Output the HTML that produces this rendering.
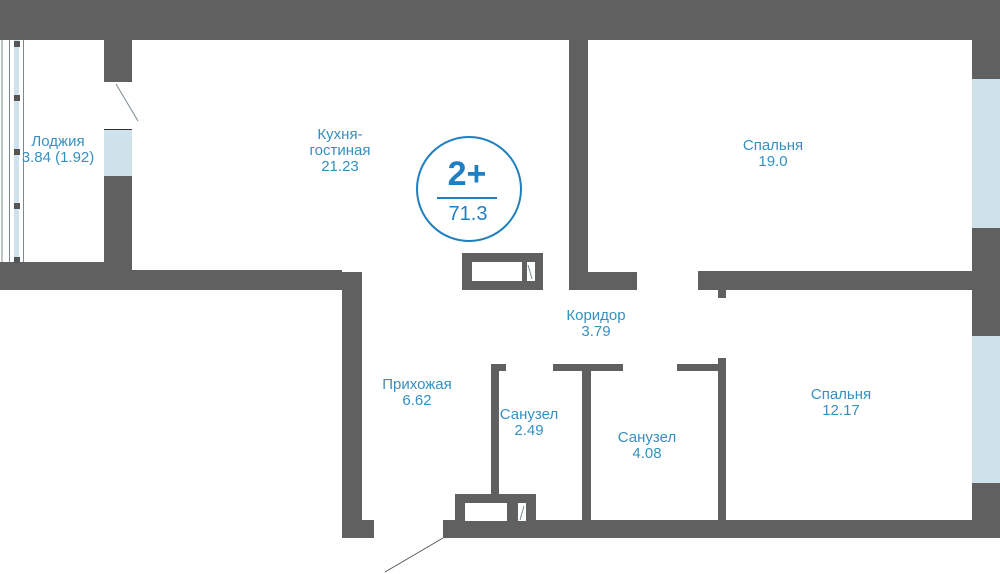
<!DOCTYPE html>
<html><head><meta charset="utf-8"><style>
html,body{margin:0;padding:0;background:#fff;}
svg{display:block}
text{font-family:"Liberation Sans",sans-serif;fill:#3590c0;font-size:15px;text-anchor:middle}
</style></head><body>
<svg width="1000" height="574" viewBox="0 0 1000 574" xmlns="http://www.w3.org/2000/svg">
<g fill="#606060">
<rect x="0" y="0" width="1000" height="40"/>
<rect x="104" y="40" width="28" height="42"/>
<rect x="104" y="176" width="28" height="94"/>
<rect x="0" y="262" width="132" height="28"/>
<rect x="132" y="270" width="210" height="20"/>
<rect x="342" y="272" width="20" height="248"/>
<rect x="342" y="520" width="32" height="18"/>
<rect x="569" y="40" width="19" height="250"/>
<rect x="569" y="272" width="68" height="18"/>
<rect x="698" y="271" width="274" height="19"/>
<rect x="718" y="290" width="8" height="8"/>
<rect x="972" y="40" width="28" height="39"/>
<rect x="972" y="228" width="28" height="108"/>
<rect x="972" y="483" width="28" height="55"/>
<rect x="462" y="253" width="81" height="37"/>
<rect x="491" y="364" width="15" height="7"/>
<rect x="553" y="364" width="70" height="7"/>
<rect x="677" y="364" width="41" height="7"/>
<rect x="491" y="364" width="8" height="132"/>
<rect x="582" y="368" width="9" height="152"/>
<rect x="718" y="358" width="8" height="162"/>
<rect x="455" y="494" width="81" height="28"/>
<rect x="443" y="520" width="557" height="18"/>
</g>
<g fill="#fff">
<rect x="472" y="262" width="50" height="19"/>
<rect x="527" y="262" width="8" height="19"/>
<rect x="465" y="503" width="42" height="18"/>
<rect x="518" y="503" width="8" height="18"/>
</g>
<g fill="#cfe2ec">
<rect x="104" y="130" width="28" height="46"/>
<rect x="972" y="79" width="28" height="149"/>
<rect x="972" y="336" width="28" height="147"/>
<rect x="14" y="40" width="5" height="222"/>
</g>
<g stroke="#7a8a90" stroke-width="1" fill="none">
<line x1="2" y1="40" x2="2" y2="262"/>
<line x1="9.5" y1="40" x2="9.5" y2="262"/>
<line x1="23.5" y1="40" x2="23.5" y2="262"/>
<line x1="116" y1="84" x2="138" y2="121"/>
<line x1="104" y1="129.5" x2="132" y2="129.5" stroke="#333"/>
<line x1="443" y1="538" x2="385" y2="572" stroke="#555"/>
<line x1="528" y1="265" x2="532" y2="279"/>
<line x1="524" y1="506" x2="520" y2="520"/>
</g>
<g fill="#555">
<rect x="14" y="41" width="6" height="6"/>
<rect x="14" y="95" width="6" height="6"/>
<rect x="14" y="149" width="6" height="6"/>
<rect x="14" y="203" width="6" height="6"/>
<rect x="14" y="257" width="6" height="6"/>
</g>
<circle cx="469" cy="189" r="52" fill="none" stroke="#1f7fc0" stroke-width="2"/>
<line x1="437" y1="198" x2="497" y2="198" stroke="#1f7fc0" stroke-width="2"/>
<text x="467" y="185" style="font-size:34px;font-weight:bold;fill:#1f7fc0">2+</text>
<text x="468" y="220" style="font-size:20px;fill:#1f7fc0">71.3</text>
<text x="58" y="146">Лоджия</text><text x="58" y="162">3.84 (1.92)</text>
<text x="340" y="139">Кухня-</text><text x="340" y="155">гостиная</text><text x="340" y="171">21.23</text>
<text x="773" y="150">Спальня</text><text x="773" y="166">19.0</text>
<text x="596" y="320">Коридор</text><text x="596" y="336">3.79</text>
<text x="417" y="389">Прихожая</text><text x="417" y="405">6.62</text>
<text x="529" y="419">Санузел</text><text x="529" y="435">2.49</text>
<text x="647" y="442">Санузел</text><text x="647" y="458">4.08</text>
<text x="841" y="399">Спальня</text><text x="841" y="415">12.17</text>
</svg>
</body></html>
